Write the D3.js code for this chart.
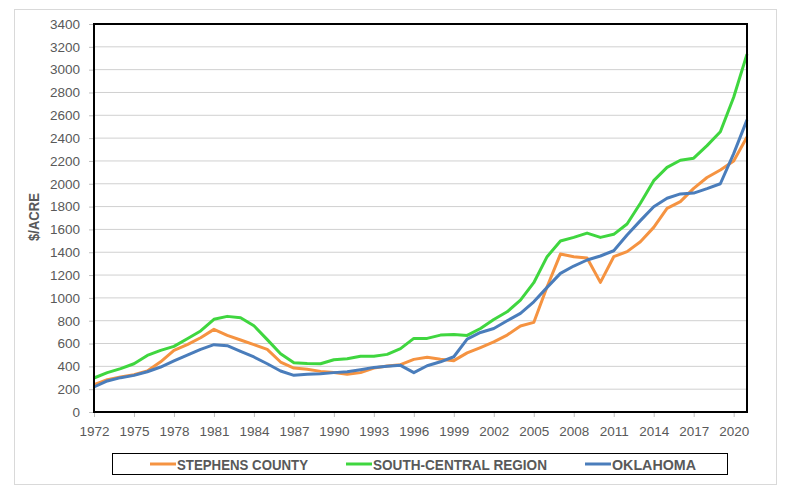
<!DOCTYPE html>
<html><head><meta charset="utf-8">
<script src="https://cdn.jsdelivr.net/npm/d3@7"></script>
<style>body{margin:0;background:#fff}svg{display:block}text{font-family:"Liberation Sans",Arial,sans-serif}</style>
</head><body><svg id="c" width="786" height="500"></svg>
<script>
const years = d3.range(1972, 2022);
const tickYears = d3.range(1972, 2021, 3);
const yTicks = d3.range(0, 3401, 200);
const stephens = [240,283,307,327,359,440,540,590,651,724,672,631,590,549,438,385,374,356,347,330,345,385,403,415,461,480,462,450,518,565,615,674,753,785,1098,1384,1361,1349,1136,1361,1405,1492,1618,1785,1843,1960,2055,2121,2200,2409];
const southCentral = [298,345,380,423,496,540,575,642,710,812,838,826,756,634,511,432,426,423,458,467,488,488,505,555,645,645,674,680,671,732,811,878,981,1133,1361,1498,1530,1568,1530,1557,1647,1829,2027,2144,2206,2224,2334,2456,2758,3136];
const oklahoma = [219,272,301,321,353,394,447,499,549,590,581,532,482,423,359,321,330,336,345,353,371,391,400,409,345,405,440,484,639,697,732,799,864,966,1092,1215,1279,1332,1367,1413,1551,1677,1799,1873,1911,1918,1957,2000,2264,2560];
const seriesNames = ["STEPHENS COUNTY","SOUTH-CENTRAL REGION","OKLAHOMA"];
const seriesData = [stephens, southCentral, oklahoma];
const colors = ["#f59341","#3fd63f","#4a7dbb"];

const svg = d3.select("#c");
const L=94,R=747,T=24,B=412;
const x = d3.scalePoint().domain(years).range([L,R]).padding(0);
const y = d3.scaleLinear().domain([0,3400]).range([B,T]);

svg.append("rect").attr("x",14.5).attr("y",9.5).attr("width",762).attr("height",475)
  .attr("fill","#fff").attr("stroke","#d9d9d9");

svg.append("g").selectAll("line").data(yTicks.filter(d=>d>0)).join("line")
  .attr("x1",L).attr("x2",R).attr("y1",d=>y(d)).attr("y2",d=>y(d))
  .attr("stroke","#d0d0d0").attr("stroke-width",1);

const ya = svg.append("g").attr("transform",`translate(${L},0)`)
  .call(d3.axisLeft(y).tickValues(yTicks).tickSize(5).tickPadding(9).tickFormat(d3.format("d")))
  .attr("font-size",13.5).attr("font-family","Liberation Sans, Arial, sans-serif");
ya.select(".domain").remove();
ya.selectAll("line").attr("stroke","#bfbfbf");
ya.selectAll("text").attr("fill","#595959");

const xa = svg.append("g").attr("transform",`translate(0,${B})`)
  .call(d3.axisBottom(x).tickValues(tickYears).tickSize(5).tickPadding(9).tickFormat(d3.format("d")))
  .attr("font-size",13.5).attr("font-family","Liberation Sans, Arial, sans-serif");
xa.select(".domain").remove();
xa.selectAll("line").attr("stroke","#bfbfbf");
xa.selectAll("text").attr("fill","#595959");

const line = d3.line().x((d,i)=>x(years[i])).y(d=>y(d));
seriesData.forEach((s,k)=>{
  svg.append("path").datum(s).attr("d",line).attr("fill","none")
    .attr("stroke",colors[k]).attr("stroke-width",3).attr("stroke-linejoin","round");
});

svg.append("rect").attr("x",L).attr("y",T).attr("width",R-L).attr("height",B-T)
  .attr("fill","none").attr("stroke","#000").attr("stroke-width",2);

svg.append("text").attr("transform","translate(39,217) rotate(-90)").attr("text-anchor","middle")
  .attr("fill","#595959").style("font-size","15px").style("font-weight","bold")
  .attr("textLength",48).attr("lengthAdjust","spacingAndGlyphs").text("$/ACRE");

svg.append("rect").attr("x",112.5).attr("y",453.5).attr("width",615).attr("height",21)
  .attr("fill","#fff").attr("stroke","#000").attr("stroke-width",1);
const legX = [150,346,585];
const legW = [131,174,84];
seriesNames.forEach((n,k)=>{
  svg.append("line").attr("x1",legX[k]).attr("x2",legX[k]+26).attr("y1",464).attr("y2",464)
    .attr("stroke",colors[k]).attr("stroke-width",3);
  svg.append("text").attr("x",legX[k]+27).attr("y",470).attr("fill","#595959")
    .style("font-size","15px").style("font-weight","bold")
    .attr("textLength",legW[k]).attr("lengthAdjust","spacingAndGlyphs").text(n);
});
</script></body></html>
